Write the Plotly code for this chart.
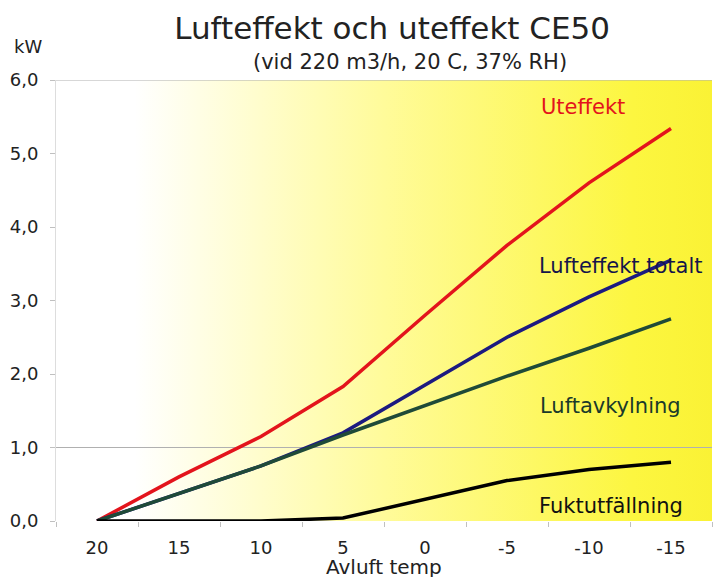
import base64
import plotly.graph_objects as go

# Avluft temp (categories) and effects in kW
temps = ["20", "15", "10", "5", "0", "-5", "-10", "-15"]
uteffekt = [0.0, 0.6, 1.15, 1.83, 2.8, 3.75, 4.6, 5.34]
lufteffekt_totalt = [0.0, 0.38, 0.75, 1.2, 1.85, 2.5, 3.05, 3.55]
luftavkylning = [0.0, 0.38, 0.75, 1.17, 1.57, 1.97, 2.35, 2.75]
fuktutfallning = [0.0, 0.0, 0.0, 0.04, 0.3, 0.55, 0.7, 0.8]

font = "DejaVu Sans"

series = [
    ("Uteffekt", uteffekt, "#e3141c"),
    ("Lufteffekt totalt", lufteffekt_totalt, "#1c1a80"),
    ("Luftavkylning", luftavkylning, "#1f4a38"),
    ("Fuktutfällning", fuktutfallning, "#000000"),
]

fig = go.Figure()
for name, vals, col in series:
    fig.add_trace(go.Scatter(x=temps, y=vals, mode="lines", name=name,
                             line=dict(color=col, width=3.5)))

# white -> yellow background for the plot area
svg = ('<svg xmlns="http://www.w3.org/2000/svg" width="100" height="100" preserveAspectRatio="none">'
       '<defs><linearGradient id="g" x1="0" y1="0" x2="1" y2="0">'
       '<stop offset="0.12" stop-color="#ffffff"/>'
       '<stop offset="0.5" stop-color="#fffb9a"/>'
       '<stop offset="0.88" stop-color="#fcf640"/>'
       '<stop offset="1" stop-color="#faf235"/>'
       '</linearGradient></defs><rect width="100" height="100" fill="url(#g)"/></svg>')
src = "data:image/svg+xml;base64," + base64.b64encode(svg.encode()).decode()
fig.add_layout_image(dict(source=src, xref="paper", yref="paper", x=0, y=1,
                          sizex=1, sizey=1, sizing="stretch", layer="below",
                          xanchor="left", yanchor="top"))

for yv in [1, 6]:
    fig.add_hline(y=yv, line=dict(color="#b0b0b0", width=1), layer="below")

labels = [
    ("Uteffekt", 0.737, 5.63, "#e3141c"),
    ("Lufteffekt totalt", 0.733, 3.47, "#15154a"),
    ("Luftavkylning", 0.735, 1.56, "#1a3a2a"),
    ("Fuktutfällning", 0.733, 0.2, "#111111"),
]
for txt, xp, yv, col in labels:
    fig.add_annotation(text=txt, x=xp, y=yv, xref="paper", yref="y", xanchor="left",
                       yanchor="middle", showarrow=False,
                       font=dict(family=font, size=21, color=col))

fig.add_annotation(text="kW", x=-0.043, y=1.077, xref="paper", yref="paper", showarrow=False,
                   xanchor="center", yanchor="middle", font=dict(family=font, size=18, color="#222"))
fig.add_annotation(text="(vid 220 m3/h, 20 C, 37% RH)", x=0.54, y=1.041, xref="paper", yref="paper",
                   showarrow=False, xanchor="center", yanchor="middle",
                   font=dict(family=font, size=21, color="#222"))
fig.add_annotation(text="Avluft temp", x=0.5, y=-0.104, xref="paper", yref="paper", showarrow=False,
                   xanchor="center", yanchor="middle", font=dict(family=font, size=20, color="#222"))

fig.update_layout(
    width=713, height=577,
    margin=dict(l=56, r=1, t=80, b=56),
    paper_bgcolor="white", plot_bgcolor="white",
    separators=", ",
    showlegend=False,
    title=dict(text="Lufteffekt och uteffekt CE50", x=0.55, xanchor="center", y=0.951,
               yanchor="middle", font=dict(family=font, size=31, color="#222")),
    font=dict(family=font, size=18, color="#222"),
)
fig.update_xaxes(type="category", range=[-0.5, 7.5], showgrid=False, zeroline=False,
                 tickson="boundaries", ticks="outside", ticklen=5, tickcolor="#c0c0c0",
                 showline=False, ticklabelstandoff=14, tickfont=dict(size=18))
fig.update_yaxes(range=[0, 6], dtick=1, tickformat=".1f", showgrid=False, zeroline=False,
                 ticks="outside", ticklen=5, tickcolor="#c0c0c0", showline=True,
                 linecolor="#dddddd", linewidth=1, ticklabelstandoff=8, tickfont=dict(size=18))

fig.write_html("out.html", config={"displayModeBar": False},
               post_script="document.body.style.margin='0';")
